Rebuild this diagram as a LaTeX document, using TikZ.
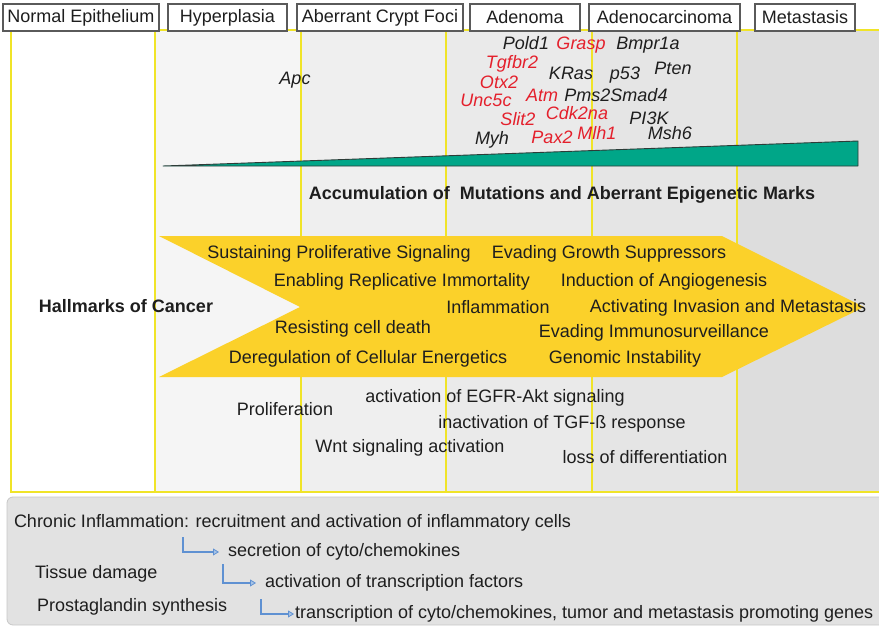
\documentclass[tikz,border=0pt]{standalone}
\usepackage{fontspec}
\setmainfont{Liberation Sans}
\usetikzlibrary{arrows.meta}

\definecolor{divyellow}{RGB}{240,228,40}
\definecolor{hallyellow}{RGB}{251,209,42}
\definecolor{wedgeteal}{RGB}{0,166,136}
\definecolor{wedgeline}{RGB}{45,60,56}
\definecolor{genered}{RGB}{228,32,44}
\definecolor{inktext}{RGB}{30,30,30}
\definecolor{colA}{RGB}{255,255,255}
\definecolor{colB}{RGB}{245,245,245}
\definecolor{colC}{RGB}{239,239,239}
\definecolor{colD}{RGB}{234,234,234}
\definecolor{colE}{RGB}{229,229,229}
\definecolor{colF}{RGB}{221,221,221}
\definecolor{panelgray}{RGB}{226,226,226}
\definecolor{arrowblue}{RGB}{95,145,210}
\definecolor{boxline}{RGB}{90,90,90}

\begin{document}
\begin{tikzpicture}[x=1pt,y=-1pt,
  every node/.style={inner sep=0pt,outer sep=0pt,text=inktext},
  stagebox/.style={draw=boxline,line width=1.1pt,fill=white,minimum height=27pt,
    font=\fontsize{18}{20}\selectfont,anchor=north west},
  textlow/.style={yshift=-4pt},
  gene/.style={font=\fontsize{18}{20}\selectfont\itshape,anchor=mid,textlow},
  redgene/.style={gene,text=genered},
  hall/.style={font=\fontsize{18}{20}\selectfont,anchor=mid,textlow},
  plain/.style={font=\fontsize{18}{20}\selectfont,anchor=mid,textlow},
  flowtxt/.style={font=\fontsize{18}{20}\selectfont,anchor=mid west,textlow},
  divider/.style={draw=divyellow,line width=1.6pt},
  elbow/.style={draw=arrowblue,line width=2.2pt,
    -{Triangle[length=6pt,width=7pt,fill=arrowblue!55,line width=0.8pt]}}
]
\useasboundingbox (0,0) rectangle (879,627);

% stage columns
\fill[colA] (11,30) rectangle (155,492);
\fill[colB] (155,30) rectangle (301,492);
\fill[colC] (301,30) rectangle (446,492);
\fill[colD] (446,30) rectangle (592,492);
\fill[colE] (592,30) rectangle (737,492);
\fill[colF] (737,30) rectangle (879,492);
\draw[divider] (880,30) -- (11,30) -- (11,492) -- (880,492);
\foreach \xx in {155,301,446,592,737}
  \draw[divider] (\xx,30) -- (\xx,492);

% stage headers
\node[stagebox,minimum width=156pt] (hNormal) at (3,4) {Normal Epithelium};
\node[stagebox,minimum width=119pt] (hHyper) at (168,4) {Hyperplasia};
\node[stagebox,minimum width=166pt] (hACF) at (297,4) {Aberrant Crypt Foci};
\node[stagebox,minimum width=110pt] (hAdenoma) at (470,4) {Adenoma};
\node[stagebox,minimum width=151pt] (hAdenoca) at (589,4) {Adenocarcinoma};
\node[stagebox,minimum width=100pt] (hMeta) at (755,4) {Metastasis};

% genes
\node[gene] (gApc) at (295,78) {Apc};
\node[gene] (gPold) at (526,43) {Pold1};
\node[redgene] (gGrasp) at (581,43) {Grasp};
\node[gene] (gBmpr) at (648,43) {Bmpr1a};
\node[redgene] (gTgfbr) at (512,62) {Tgfbr2};
\node[gene] (gKRas) at (571,73) {KRas};
\node[gene] (gp53) at (625,73) {p53};
\node[gene] (gPten) at (673,68) {Pten};
\node[redgene] (gOtx) at (499,82) {Otx2};
\node[redgene] (gUnc) at (486,100) {Unc5c};
\node[redgene] (gAtm) at (542,95) {Atm};
\node[gene] (gPms) at (616,95) {Pms2Smad4};
\node[redgene] (gCdk) at (577,113) {Cdk2na};
\node[redgene] (gSlit) at (518,119) {Slit2};
\node[gene] (gPI3K) at (649,118) {PI3K};
\node[gene] (gMyh) at (492,138) {Myh};
\node[redgene] (gPax) at (552,137) {Pax2};
\node[redgene] (gMlh) at (597,133) {Mlh1};
\node[gene] (gMsh) at (670,133) {Msh6};

% accumulation wedge
\filldraw[fill=wedgeteal,draw=wedgeline,line width=0.9pt,line join=round]
  (163,166) -- (858,141) -- (858,166) -- cycle;
\node[plain,font=\fontsize{18}{20}\selectfont\bfseries] (accum) at (562,193)
  {Accumulation of\ \ Mutations and Aberrant Epigenetic Marks};

% hallmarks arrow
\fill[hallyellow] (159,236) -- (722,236) -- (864,307) -- (722,377) -- (159,377)
  -- (300,307) -- cycle;
\node[plain,font=\fontsize{18}{20}\selectfont\bfseries] (hallTitle) at (126,306) {Hallmarks of Cancer};
\node[hall] (h1) at (339,252) {Sustaining Proliferative Signaling};
\node[hall] (h2) at (609,252) {Evading Growth Suppressors};
\node[hall] (h3) at (402,280) {Enabling Replicative Immortality};
\node[hall] (h4) at (664,280) {Induction of Angiogenesis};
\node[hall] (h5) at (498,307) {Inflammation};
\node[hall] (h6) at (728,306) {Activating Invasion and Metastasis};
\node[hall] (h7) at (353,327) {Resisting cell death};
\node[hall] (h8) at (654,331) {Evading Immunosurveillance};
\node[hall] (h9) at (368,357) {Deregulation of Cellular Energetics};
\node[hall] (h10) at (625,357) {Genomic Instability};

% cellular processes
\node[plain] (pProlif) at (285,409) {Proliferation};
\node[plain] (pEGFR) at (495,396) {activation of EGFR-Akt signaling};
\node[plain] (pTGF) at (562,422) {inactivation of TGF-ß response};
\node[plain] (pWnt) at (410,446) {Wnt signaling activation};
\node[plain] (pDiff) at (645,457) {loss of differentiation};

% inflammation panel
\filldraw[fill=panelgray,draw=black!22,line width=0.8pt,rounded corners=6pt]
  (7,497) rectangle (890,625);
\node[flowtxt] (chronic) at (14,521) {Chronic Inflammation: recruitment and activation of inflammatory cells};
\node[flowtxt] (secr) at (228,550) {secretion of cyto/chemokines};
\node[flowtxt] (tissue) at (35,572) {Tissue damage};
\node[flowtxt] (actTF) at (265,581) {activation of transcription factors};
\node[flowtxt] (prosta) at (37,605) {Prostaglandin synthesis};
\node[flowtxt] (transc) at (295,612) {transcription of cyto/chemokines, tumor and metastasis promoting genes};

\coordinate (e1) at (183,537);
\coordinate (e2) at (223,564);
\coordinate (e3) at (261,599);
\draw[elbow,shorten >=9pt] (e1) |- (secr.west);
\draw[elbow,shorten >=9pt] (e2) |- (actTF.west);
\draw[elbow,shorten >=1pt] (e3) |- (transc.west);
\end{tikzpicture}
\end{document}
